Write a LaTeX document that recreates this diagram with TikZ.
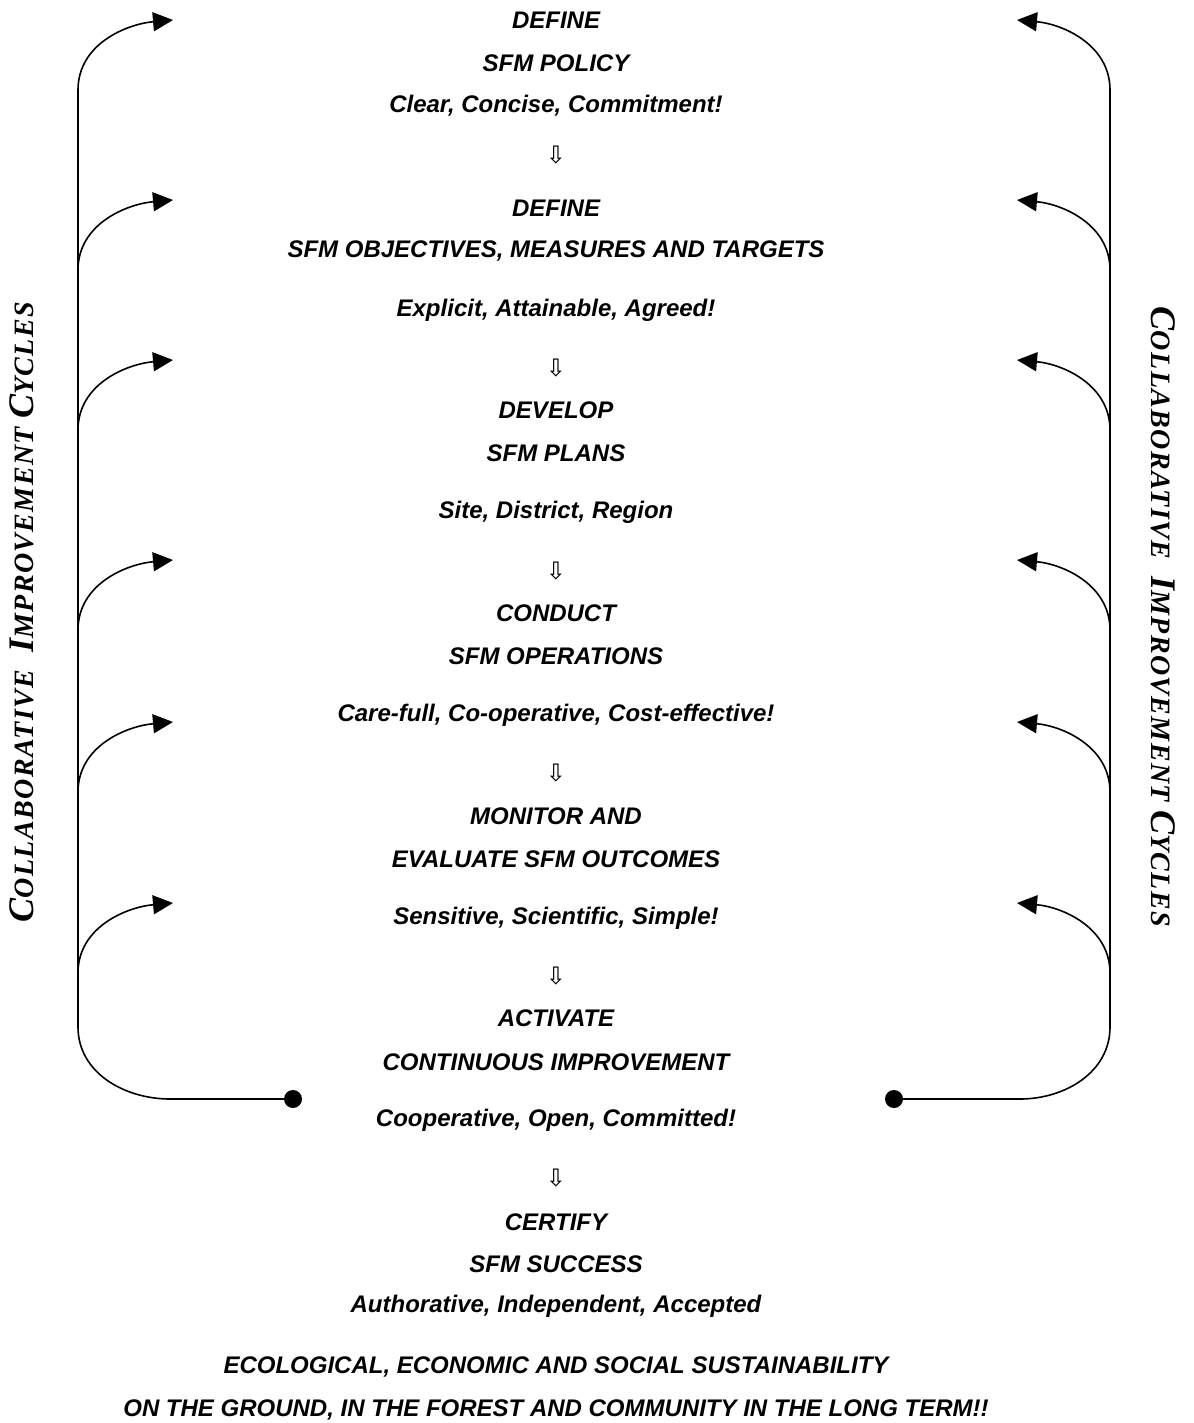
\documentclass[tikz,border=0pt]{standalone}
\usepackage{fontspec}
\usepackage{tikz}
\usetikzlibrary{arrows.meta}
\setmainfont{Liberation Sans}
\newfontfamily\sidefont[LetterSpace=5]{Liberation Serif}
\newfontfamily\arrowfont{DejaVu Sans}
\newcommand{\bigsc}[1]{{\fontsize{36}{36}\selectfont #1}}
\newcommand{\cycles}{\sidefont\bfseries\itshape\fontsize{28}{28}\selectfont
  \bigsc{C}OLLABORATIVE\ \ \bigsc{I}MPROVEMENT \bigsc{C}YCLES}

\begin{document}
\begin{tikzpicture}[x=1pt,y=-1pt,
    stage/.style={font=\bfseries\itshape\fontsize{24}{24}\selectfont,inner sep=0pt},
    darrow/.style={font=\arrowfont\fontsize{24}{24}\selectfont,inner sep=0pt},
    loop/.style={line width=1.6pt},
    tip/.style={-{Triangle[length=20pt,width=19pt]}}]
  \useasboundingbox (0,0) rectangle (1193,1423);
  % steps of the cycle
  \foreach \ypos/\name/\txt in {20/a1/DEFINE, 63/a2/SFM POLICY, 106/a3/{Clear, Concise, Commitment!},
      208/b1/DEFINE, 251/b2/{SFM OBJECTIVES, MEASURES AND TARGETS}, 310/b3/{Explicit, Attainable, Agreed!},
      410/c1/DEVELOP, 453/c2/SFM PLANS, 512/c3/{Site, District, Region},
      613/d1/CONDUCT, 656/d2/SFM OPERATIONS, 715/d3/{Care-full, Co-operative, Cost-effective!},
      816/e1/MONITOR AND, 859/e2/EVALUATE SFM OUTCOMES, 918/e3/{Sensitive, Scientific, Simple!},
      1018/f1/ACTIVATE, 1062/f2/CONTINUOUS IMPROVEMENT, 1120/f3/{Cooperative, Open, Committed!},
      1222/g1/CERTIFY, 1264/g2/SFM SUCCESS, 1306/g3/{Authorative, Independent, Accepted},
      1367/h1/{ECOLOGICAL, ECONOMIC AND SOCIAL SUSTAINABILITY},
      1410/h2/{ON THE GROUND, IN THE FOREST AND COMMUNITY IN THE LONG TERM!!}}
    \node[stage] (\name) at (556,\ypos) {\txt};
  % small arrows between steps
  \foreach \ypos/\name in {155/d1, 368/d2, 571/d3, 773/d4, 976/d5, 1178/d6}
    \node[darrow] (\name) at (556,\ypos) {⇩};
  % side titles
  \node[rotate=90] (lside) at (22,612) {\cycles};
  \node[rotate=-90] (rside) at (1163,617) {\cycles};
  % loops
  \node[circle,fill,inner sep=0pt,minimum size=18pt] (ldot) at (293,1099) {};
  \node[circle,fill,inner sep=0pt,minimum size=18pt] (rdot) at (894,1099) {};
  \coordinate (lbend) at (170,1099);
  \coordinate (rbend) at (1020,1099);
  \coordinate (ltop) at (78,90);
  \coordinate (rtop) at (1110,90);
  \draw[loop] (ldot.center) -- (lbend) to[out=180,in=-90] (78,1027) -- (ltop);
  \draw[loop] (rdot.center) -- (rbend) to[out=0,in=-90] (1110,1027) -- (rtop);
  \foreach \ypos in {20, 200, 360, 560, 722, 903}
  {
    \coordinate (ltip) at (173,\ypos);
    \coordinate (rtip) at (1017,\ypos);
    \draw[loop,tip] (78,\ypos+70) to[out=90,in=185] (ltip);
    \draw[loop,tip] (1110,\ypos+70) to[out=90,in=-5] (rtip);
  }
\end{tikzpicture}
\end{document}
